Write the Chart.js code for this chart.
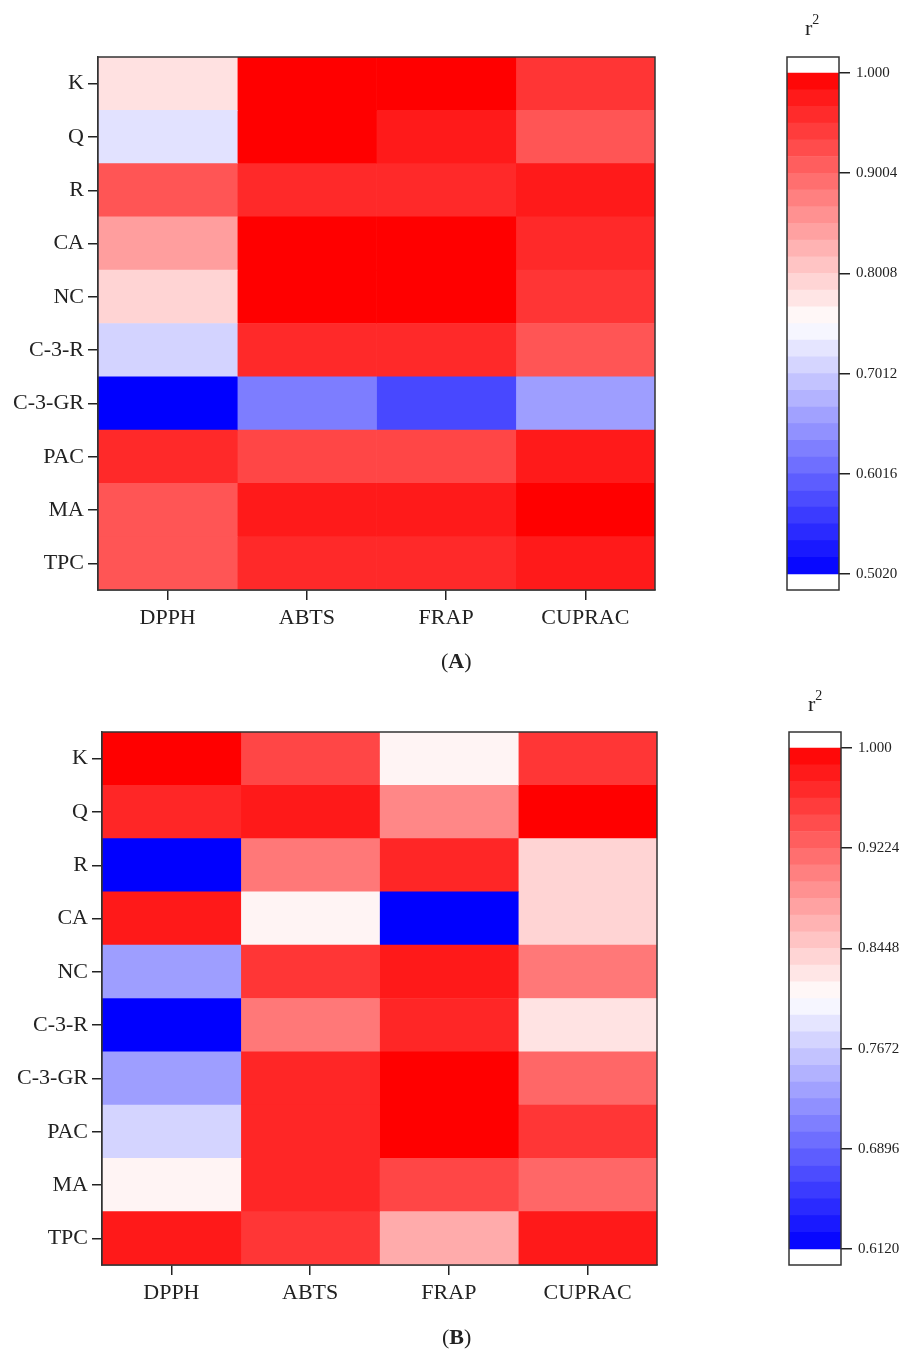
<!DOCTYPE html>
<html>
<head>
<meta charset="utf-8">
<script src="https://cdn.jsdelivr.net/npm/chart.js@4.4.1/dist/chart.umd.min.js"></script>
<style>
  body { margin: 0; background: #fff; width: 911px; height: 1359px; position: relative; overflow: hidden;
         font-family: "Liberation Serif", "DejaVu Serif", serif; color: #222; }
  canvas { position: absolute; }
  .txt { position: absolute; font-size: 22px; line-height: 22px; white-space: nowrap; }
  .sup { font-size: 14px; position: relative; top: -11px; }
</style>
</head>
<body>
<canvas id="heatA" width="680" height="680" style="left:0;top:0"></canvas>
<canvas id="barA" width="151" height="680" style="left:760px;top:0"></canvas>
<canvas id="heatB" width="680" height="679" style="left:0;top:680px"></canvas>
<canvas id="barB" width="151" height="679" style="left:760px;top:680px"></canvas>

<div class="txt" style="left:805px;top:17px">r<span class="sup">2</span></div>
<div class="txt" style="left:441px;top:650px">(<b>A</b>)</div>
<div class="txt" style="left:808px;top:693px">r<span class="sup">2</span></div>
<div class="txt" style="left:442px;top:1326px">(<b>B</b>)</div>

<script>
var rowLabels = ["K", "Q", "R", "CA", "NC", "C-3-R", "C-3-GR", "PAC", "MA", "TPC"];
var colLabels = ["DPPH", "ABTS", "FRAP", "CUPRAC"];

// panel A, r2 per assay, rows as rowLabels
var dpphA   = [0.780, 0.723, 0.917, 0.846, 0.793, 0.708, 0.502, 0.960, 0.917, 0.917];
var abtsA   = [1.000, 1.000, 0.960, 1.000, 1.000, 0.960, 0.624, 0.932, 0.975, 0.960];
var frapA   = [1.000, 0.975, 0.960, 1.000, 1.000, 0.960, 0.572, 0.932, 0.975, 0.960];
var cupracA = [0.948, 0.917, 0.975, 0.960, 0.948, 0.917, 0.656, 0.975, 1.000, 0.975];
var ticksA    = [0.5020, 0.6016, 0.7012, 0.8008, 0.9004, 1.000];
var tickTextA = ["0.5020", "0.6016", "0.7012", "0.8008", "0.9004", "1.000"];

// panel B
var dpphB   = [1.000, 0.971, 0.612, 0.981, 0.732, 0.612, 0.732, 0.773, 0.814, 0.981];
var abtsB   = [0.947, 0.981, 0.909, 0.814, 0.959, 0.909, 0.971, 0.971, 0.971, 0.959];
var frapB   = [0.814, 0.897, 0.971, 0.612, 0.981, 0.971, 1.000, 1.000, 0.947, 0.870];
var cupracB = [0.959, 1.000, 0.839, 0.839, 0.909, 0.827, 0.922, 0.959, 0.922, 0.981];
var ticksB    = [0.6120, 0.6896, 0.7672, 0.8448, 0.9224, 1.000];
var tickTextB = ["0.6120", "0.6896", "0.7672", "0.8448", "0.9224", "1.000"];

var INK = "#222";
var FONT = "'Liberation Serif', 'DejaVu Serif', serif";

// blue - white - red
function r2Color(v, lo, hi) {
    var mid = (lo + hi) / 2;
    var s, g;
    if (v >= mid) {
        s = Math.min(1, (v - mid) / (hi - mid));
        g = Math.round(255 * (1 - s));
        return `rgb(255,${g},${g})`;
    }
    s = Math.min(1, (mid - v) / (mid - lo));
    g = Math.round(255 * (1 - s));
    return `rgb(${g},${g},255)`;
}

var frame = {
    id: "frame",
    afterDraw: function (chart) {
        var a = chart.chartArea, ctx = chart.ctx;
        ctx.save();
        ctx.strokeStyle = "#333";
        ctx.lineWidth = 1.5;
        ctx.strokeRect(a.left, a.top, a.right - a.left, a.bottom - a.top);
        ctx.restore();
    }
};

function heatmap(id, cols, lo, hi, pad) {
    var datasets = colLabels.map(function (name, i) {
        return {
            label: name,
            data: rowLabels.map(function () { return 1; }),
            backgroundColor: cols[i].map(function (v) { return r2Color(v, lo, hi); }),
            borderWidth: 0,
            barPercentage: 1,
            categoryPercentage: 1
        };
    });
    return new Chart(document.getElementById(id), {
        type: "bar",
        data: { labels: rowLabels, datasets: datasets },
        plugins: [frame],
        options: {
            indexAxis: "y",
            responsive: false,
            animation: false,
            events: [],
            layout: { padding: pad },
            plugins: { legend: { display: false }, tooltip: { enabled: false } },
            scales: {
                x: {
                    type: "linear", stacked: true, min: 0, max: 4,
                    afterBuildTicks: function (s) { s.ticks = [0.5, 1.5, 2.5, 3.5].map(function (v) { return { value: v }; }); },
                    afterFit: function (s) { s.height = 50; },
                    ticks: {
                        callback: function (v, i) { return colLabels[i]; },
                        color: INK, font: { family: FONT, size: 22 }, padding: 5, maxRotation: 0
                    },
                    grid: { drawOnChartArea: false, tickLength: 10, color: INK, lineWidth: 1.5 },
                    border: { display: true, color: "#333", width: 1.5 }
                },
                y: {
                    stacked: true,
                    afterFit: function (s) { s.width = pad.yw; },
                    ticks: { color: INK, font: { family: FONT, size: 22 }, padding: 4 },
                    grid: { offset: false, drawOnChartArea: false, tickLength: 10, color: INK, lineWidth: 1.5 },
                    border: { display: true, color: "#333", width: 1.5 }
                }
            }
        }
    });
}

function colorbar(id, ticks, texts, pad) {
    var lo = ticks[0], hi = ticks[ticks.length - 1];
    var n = 30, step = (hi - lo) / n, ext = (hi - lo) * 0.032;
    var bands = [];
    for (var k = 0; k < n; k++) {
        var b0 = lo + k * step;
        bands.push({
            data: [[b0, b0 + step]],
            backgroundColor: r2Color(b0 + step / 2, lo, hi),
            borderWidth: 0, grouped: false,
            barPercentage: 1, categoryPercentage: 1
        });
    }
    return new Chart(document.getElementById(id), {
        type: "bar",
        data: { labels: [""], datasets: bands },
        plugins: [frame],
        options: {
            responsive: false,
            animation: false,
            events: [],
            layout: { padding: pad },
            plugins: { legend: { display: false }, tooltip: { enabled: false } },
            scales: {
                x: { display: false },
                y: {
                    position: "right", min: lo - ext, max: hi + ext,
                    afterBuildTicks: function (s) { s.ticks = ticks.map(function (v) { return { value: v }; }); },
                    afterFit: function (s) { s.width = pad.yw; },
                    ticks: {
                        callback: function (v, i) { return texts[i]; },
                        color: INK, font: { family: FONT, size: 15 }, padding: 6
                    },
                    grid: { drawOnChartArea: false, tickLength: 11, color: INK, lineWidth: 1.5 },
                    border: { display: false }
                }
            }
        }
    });
}

heatmap("heatA", [dpphA, abtsA, frapA, cupracA], ticksA[0], ticksA[5], { top: 57, right: 25, bottom: 40, left: 0, yw: 98 });
heatmap("heatB", [dpphB, abtsB, frapB, cupracB], ticksB[0], ticksB[5], { top: 52, right: 23, bottom: 44, left: 0, yw: 102 });
colorbar("barA", ticksA, tickTextA, { top: 57, right: 0, bottom: 90, left: 27, yw: 72 });
colorbar("barB", ticksB, tickTextB, { top: 52, right: 0, bottom: 94, left: 29, yw: 70 });
</script>
</body>
</html>
